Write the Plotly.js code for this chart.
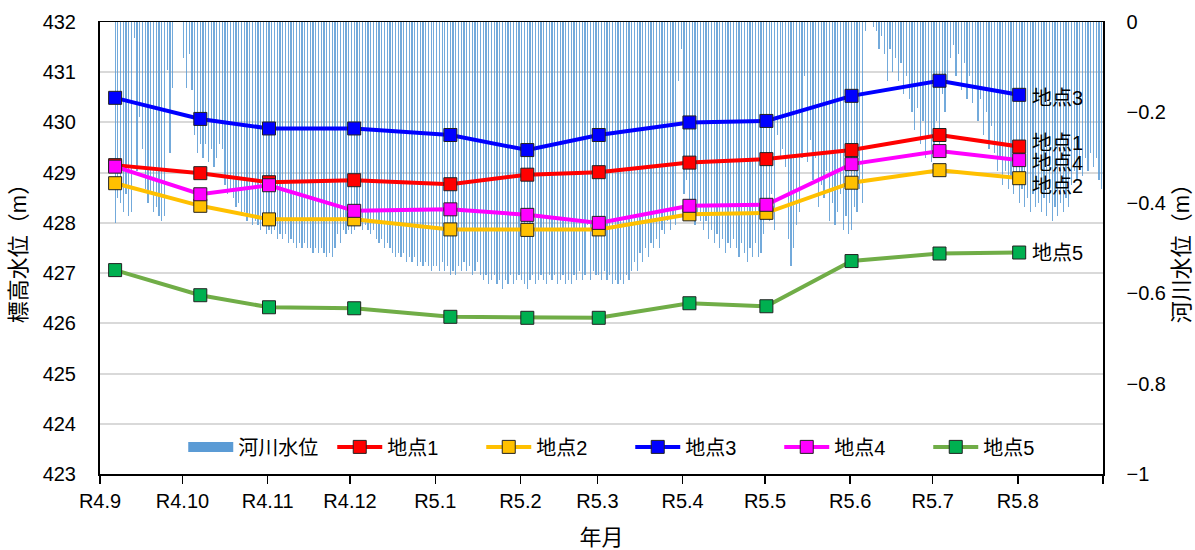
<!DOCTYPE html>
<html><head><meta charset="utf-8">
<script src="https://cdn.plot.ly/plotly-3.0.1.min.js"></script>
<style>html,body{margin:0;padding:0;background:#fff}#chart{width:1195px;height:550px}</style>
</head><body><div id="chart"></div>
<script>
// Month ticks (x axis)
const monthTicks = ['2022-09-01','2022-10-01','2022-11-01','2022-12-01','2023-01-01','2023-02-01','2023-03-01','2023-04-01','2023-05-01','2023-06-01','2023-07-01','2023-08-01','2023-09-01'];
const monthLabels = ['R4.9','R4.10','R4.11','R4.12','R5.1','R5.2','R5.3','R5.4','R5.5','R5.6','R5.7','R5.8',''];

// Survey dates and groundwater elevations (m)
const surveyDates = ['2022-09-06','2022-10-07','2022-11-01','2022-12-02','2023-01-06','2023-02-03','2023-03-01','2023-04-03','2023-05-01','2023-06-01','2023-07-03','2023-08-01'];
const site1 = [429.15,428.99,428.81,428.85,428.77,428.96,429.01,429.20,429.27,429.45,429.75,429.52];
const site2 = [428.79,428.34,428.07,428.07,427.87,427.86,427.87,428.17,428.20,428.80,429.05,428.89];
const site3 = [430.49,430.07,429.88,429.88,429.75,429.45,429.75,430.00,430.03,430.53,430.83,430.55];
const site4 = [429.12,428.57,428.75,428.24,428.27,428.16,428.00,428.34,428.36,429.17,429.43,429.25];
const site5 = [427.06,426.56,426.32,426.30,426.13,426.11,426.11,426.40,426.34,427.24,427.39,427.41];

// Daily river water level (m), Sep 2022 - Aug 2023
const riverSep = [null,null,null,null,null,-0.445,-0.39,-0.40,-0.42,-0.38,-0.43,-0.42,-0.035,-0.33,-0.21,-0.28,-0.37,-0.40,-0.38,-0.42,-0.41,-0.43,-0.44,-0.43,-0.106,-0.29,-0.146,null,null,null];
const riverOct = [-0.08,-0.145,-0.07,-0.15,-0.25,-0.29,-0.27,-0.30,-0.27,-0.31,-0.28,-0.32,-0.30,-0.27,-0.28,-0.36,-0.38,-0.37,-0.39,-0.41,-0.40,-0.43,-0.42,-0.44,-0.43,-0.45,-0.44,-0.45,-0.46,-0.45,-0.47];
const riverNov = [-0.46,-0.47,-0.46,-0.48,-0.47,-0.48,-0.47,-0.49,-0.48,-0.49,-0.50,-0.49,-0.50,-0.49,-0.50,-0.50,-0.51,-0.50,-0.51,-0.50,-0.51,-0.52,-0.51,-0.52,-0.50,-0.47,-0.49,-0.46,-0.47,-0.46];
const riverDec = [-0.47,-0.46,-0.45,-0.44,-0.46,-0.45,-0.46,-0.47,-0.46,-0.48,-0.49,-0.48,-0.50,-0.49,-0.50,-0.51,-0.52,-0.51,-0.52,-0.51,-0.53,-0.52,-0.53,-0.52,-0.54,-0.53,-0.54,-0.53,-0.54,-0.55,-0.54];
const riverJan = [-0.54,-0.55,-0.53,-0.55,-0.54,-0.56,-0.55,-0.56,-0.54,-0.55,-0.53,-0.55,-0.54,-0.56,-0.55,-0.53,-0.56,-0.57,-0.56,-0.58,-0.57,-0.56,-0.58,-0.57,-0.59,-0.57,-0.58,-0.56,-0.58,-0.57,-0.56];
const riverFeb = [-0.57,-0.58,-0.59,-0.57,-0.56,-0.58,-0.57,-0.56,-0.57,-0.58,-0.56,-0.57,-0.56,-0.58,-0.57,-0.56,-0.58,-0.57,-0.58,-0.56,-0.57,-0.55,-0.57,-0.56,-0.45,-0.57,-0.55,-0.56];
const riverMar = [-0.56,-0.57,-0.55,-0.57,-0.56,-0.58,-0.57,-0.58,-0.57,-0.58,-0.56,-0.57,-0.55,-0.53,-0.55,-0.51,-0.53,-0.50,-0.52,-0.49,-0.50,-0.48,-0.50,-0.46,-0.47,-0.44,-0.46,-0.43,-0.45,-0.13,-0.06];
const riverApr = [-0.38,-0.35,-0.42,-0.40,-0.45,-0.43,-0.44,-0.46,-0.44,-0.48,-0.46,-0.49,-0.47,-0.50,-0.48,-0.51,-0.49,-0.50,-0.48,-0.50,-0.52,-0.49,-0.51,-0.53,-0.50,-0.52,-0.49,-0.52,-0.51,-0.47];
const riverMay = [-0.40,-0.44,-0.38,-0.46,-0.25,-0.30,-0.28,-0.32,-0.48,-0.54,-0.50,-0.45,-0.42,-0.30,-0.12,-0.31,-0.26,-0.35,-0.30,-0.41,-0.36,-0.39,-0.33,-0.44,-0.40,-0.45,-0.42,-0.38,-0.46,-0.43,-0.47];
const riverJun = [-0.46,-0.41,-0.42,-0.37,-0.40,-0.02,null,null,-0.01,-0.02,-0.06,-0.03,-0.07,-0.13,-0.06,-0.11,-0.08,-0.13,-0.09,-0.16,-0.12,-0.17,-0.20,-0.24,-0.19,-0.27,-0.22,-0.30,-0.25,-0.31];
const riverJul = [-0.30,-0.22,-0.27,-0.16,-0.20,-0.13,-0.08,-0.05,-0.12,-0.07,-0.15,-0.09,-0.17,-0.12,-0.18,-0.14,-0.22,-0.17,-0.25,-0.20,-0.28,-0.23,-0.29,-0.33,-0.30,-0.36,-0.33,-0.37,-0.34,-0.38,-0.36];
const riverAug = [-0.40,-0.37,-0.41,-0.39,-0.42,-0.38,-0.41,-0.40,-0.42,-0.39,-0.43,-0.40,-0.44,-0.41,-0.43,-0.40,-0.42,-0.39,-0.41,-0.36,-0.33,-0.35,-0.31,-0.34,-0.30,-0.33,-0.29,-0.32,-0.30,-0.35,-0.37];

const siteNames = ['地点1','地点2','地点3','地点4','地点5'];
const siteData = [site1, site2, site3, site4, site5];
const lineColors = ['#FF0000','#FFC000','#0000FF','#FF00FF','#70AD47'];
const markerColors = ['#FF0000','#FFC000','#0000FF','#FF00FF','#00B050'];
const labelShift = [4, -8, -3, -3, 0];

const river = [].concat(riverSep, riverOct, riverNov, riverDec, riverJan, riverFeb, riverMar, riverApr, riverMay, riverJun, riverJul, riverAug);
const riverDates = river.map((v, i) => new Date(Date.UTC(2022, 8, 1 + i)).toISOString().slice(0, 10) + ' 12:00');
const surveyX = surveyDates.map(d => d + ' 12:00');

const FONT = 'Liberation Sans, Arial, Noto Sans CJK JP, sans-serif';

const traces = [];
traces.push({
  type: 'bar', x: riverDates, y: river, yaxis: 'y', name: '河川水位', showlegend: false,
  width: 0.45 * 86400000, marker: {color: 'rgba(91,155,213,0.85)', line: {width: 0}}, hoverinfo: 'x+y'
});
traces.push({
  type: 'scatter', mode: 'lines', x: [null], y: [null], yaxis: 'y2', name: '河川水位',
  line: {color: '#5B9BD5', width: 13}, hoverinfo: 'skip'
});
siteData.forEach((vals, k) => {
  traces.push({
    type: 'scatter', mode: 'lines+markers', x: surveyX, y: vals, yaxis: 'y2', name: siteNames[k],
    line: {color: lineColors[k], width: 4},
    marker: {symbol: 'square', size: 13, color: markerColors[k], line: {color: '#222', width: 1}}
  });
});

const annotations = siteData.map((vals, k) => ({
  x: surveyX[surveyX.length - 1], y: vals[vals.length - 1], xref: 'x', yref: 'y2',
  text: siteNames[k], showarrow: false, xanchor: 'left', yanchor: 'middle',
  xshift: 11, yshift: labelShift[k], font: {size: 20, color: '#000', family: FONT}
}));

const layout = {
  width: 1195, height: 550,
  margin: {l: 100, r: 92, t: 22, b: 76},
  paper_bgcolor: '#fff', plot_bgcolor: '#fff',
  font: {family: FONT, size: 20, color: '#000'},
  showlegend: true,
  bargap: 0,
  xaxis: {
    type: 'date', range: ['2022-09-01', '2023-09-01'],
    tickmode: 'array', tickvals: monthTicks, ticktext: monthLabels,
    ticks: 'outside', ticklen: 8, tickwidth: 1.5, tickcolor: '#000',
    showline: true, linecolor: '#000', linewidth: 1.5, mirror: true,
    showgrid: false, zeroline: false, tickfont: {size: 20},
    title: {text: '年月', font: {size: 22}, standoff: 20}
  },
  yaxis: {
    range: [-1, 0], side: 'right', tickmode: 'array', tickvals: [0, -0.2, -0.4, -0.6, -0.8, -1],
    showgrid: false, zeroline: false, showline: true, linecolor: '#000', linewidth: 1.5,
    ticks: '', ticklabelstandoff: 18, tickfont: {size: 20},
    title: {text: '河川水位（m）', font: {size: 22}, standoff: 8}
  },
  yaxis2: {
    range: [423, 432], overlaying: 'y', side: 'left', dtick: 1, tick0: 423,
    showgrid: true, gridcolor: '#d9d9d9', gridwidth: 2, zeroline: false,
    showline: true, linecolor: '#000', linewidth: 2,
    ticks: '', ticklabelstandoff: 18, tickfont: {size: 20},
    title: {text: '標高水位（m）', font: {size: 22}, standoff: 10}
  },
  legend: {
    orientation: 'h', x: 0.083, xanchor: 'left', y: 0.06, yanchor: 'middle',
    bgcolor: 'rgba(0,0,0,0)', font: {size: 20}, itemwidth: 45,
    entrywidth: 89, entrywidthmode: 'pixels', traceorder: 'normal'
  },
  annotations: annotations
};

Plotly.newPlot('chart', traces, layout, {displayModeBar: false, staticPlot: true});
</script>
</body></html>
